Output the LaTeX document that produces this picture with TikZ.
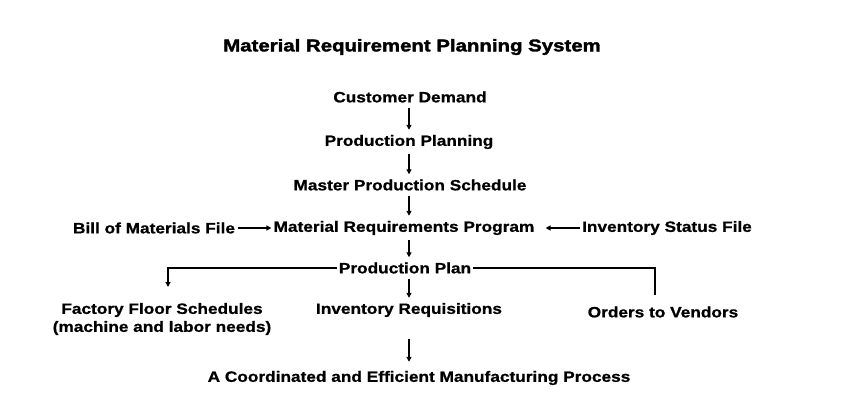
\documentclass[tikz,border=0pt]{standalone}
\usepackage{fontspec}
\setmainfont{Liberation Sans}
\newfontfamily\bodyfont[FakeStretch=1.15,FakeBold=0.8]{Liberation Sans}
\newfontfamily\titlefont[FakeStretch=1.2,FakeBold=2]{Liberation Sans}
\usetikzlibrary{arrows.meta}
\begin{document}
\begin{tikzpicture}[x=1pt,y=-1pt,
  lbl/.style={font=\bodyfont\bfseries\fontsize{15}{18}\selectfont, inner sep=2pt, anchor=center, align=center},
  ttl/.style={font=\titlefont\bfseries\fontsize{17}{20}\selectfont, inner sep=0pt},
  arr/.style={line width=1.8pt, -{Triangle[length=5pt,width=5pt]}},
  varr/.style={arr, shorten <=3pt, shorten >=3pt},
  ln/.style={line width=1.6pt}]
\useasboundingbox[fill=white] (0,0) rectangle (855,416);
\node[ttl] (title) at (412,47) {Material Requirement Planning System};
\node[lbl] (cd) at (410,97) {Customer Demand};
\node[lbl] (pp) at (409,142) {Production Planning};
\node[lbl] (mps) at (410,185) {Master Production Schedule};
\node[lbl] (mrp) at (404,228) {Material Requirements Program};
\node[lbl] (bom) at (154,228) {Bill of Materials File};
\node[lbl] (isf) at (667,228) {Inventory Status File};
\node[lbl] (plan) at (405,268) {Production Plan};
\node[lbl] (ffs) at (162,319) {Factory Floor Schedules\\(machine and labor needs)};
\node[lbl] (ir) at (409,310) {Inventory Requisitions};
\node[lbl] (otv) at (663,312) {Orders to Vendors};
\node[lbl] (acp) at (419,378) {A Coordinated and Efficient Manufacturing Process};
\coordinate (ffstop) at (168,303);
\coordinate (otvtop) at (655,303);

\draw[varr] (cd.south -| 409,0) -- (pp.north -| 409,0);
\draw[varr] (pp.south -| 409,0) -- (mps.north -| 409,0);
\draw[varr] (mps.south -| 409,0) -- (mrp.north -| 409,0);
\draw[varr] (mrp.south -| 409,0) -- (plan.north -| 409,0);
\draw[varr] (plan.south -| 409,0) -- (ir.north -| 409,0);
\draw[arr, shorten <=20pt, shorten >=7pt] (ir.south -| 409,0) -- (acp.north -| 409,0);
\draw[arr, shorten <=1pt] (bom.east) -- (mrp.west);
\draw[arr, shorten >=9pt] (isf.west) -- (mrp.east);
\draw[arr, shorten >=16pt] (plan.west) -| (ffstop);
\draw[ln, shorten >=8pt] (plan.east) -| (otvtop);
\end{tikzpicture}
\end{document}
